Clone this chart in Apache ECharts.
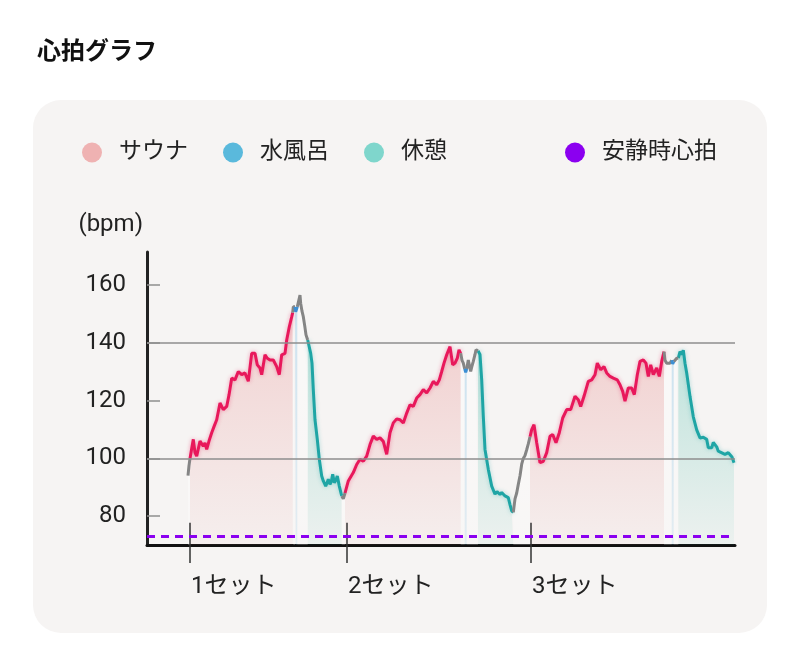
<!DOCTYPE html>
<html>
<head>
<meta charset="utf-8">
<script src="https://cdn.jsdelivr.net/npm/echarts@6/dist/echarts.min.js"></script>
<style>
  html, body { margin: 0; padding: 0; background: #ffffff; }
  #chart { width: 800px; height: 667px; }
</style>
</head>
<body>
<div id="chart"></div>
<script>
  // time in seconds, bpm
  var saunaSegs = [
    [[430,100],[463,106.6],[480,102],[497,100.8],[530,106],[563,104.2],[580,105.4],[597,103.1],[620,106],[647,108.9],[670,111],[697,113.4],[730,119.2],[763,116.9],[797,118],[820,122],[847,127.8],[880,127.2],[913,130.1],[947,129],[980,129.6],[1013,126.7],[1047,136.4],[1080,136.4],[1103,132.4],[1130,131.3],[1147,129],[1180,135.9],[1203,134.7],[1230,134.1],[1263,134.1],[1297,131.8],[1323,129],[1347,135.9],[1380,136.4],[1397,141],[1423,145.6],[1447,149],[1457,150.5]],
    [[1980,88],[2013,92.2],[2063,95.1],[2097,97.9],[2130,99.7],[2163,99],[2197,100.8],[2230,104.8],[2263,107.7],[2297,106.6],[2330,107.1],[2363,105.9],[2397,101.4],[2430,108.9],[2463,112.3],[2497,113.7],[2530,113.4],[2563,112.3],[2597,115.7],[2630,118.6],[2663,118],[2697,120.9],[2730,122.1],[2763,123.8],[2797,122.7],[2830,124.4],[2863,126.7],[2897,125.5],[2923,127.2],[2947,130.1],[2970,133],[2997,135.9],[3030,138.7],[3057,132.4],[3080,133],[3103,134.7],[3120,137.6],[3137,136.4]],
    [[3830,107.5],[3847,110],[3870,111.7],[3897,105.4],[3930,98.5],[3963,99],[3997,102],[4030,107.7],[4057,108.3],[4090,105.4],[4123,108.9],[4157,114],[4197,116.9],[4237,116.9],[4280,121.5],[4313,120.3],[4337,118],[4370,121.5],[4413,126.7],[4447,127.2],[4480,129],[4503,133],[4537,130.7],[4570,131.8],[4597,129.6],[4630,128.4],[4663,127.8],[4703,127.2],[4730,125.5],[4757,123.2],[4780,119.8],[4813,124.4],[4847,124.4],[4873,122.1],[4903,129],[4930,133.6],[4963,134.1],[4990,133],[5013,128.4],[5037,132.4],[5063,129],[5097,131.3],[5123,128.4],[5147,133.6],[5170,137]]
  ];
  var coldSegs = [
    [[1480,152.5],[1487,150.8],[1497,151],[1503,152.5]],
    [[3177,131],[3187,129.8],[3197,131]],
    [[5247,134],[5257,132.8],[5267,133.5]]
  ];
  var restSegs = [
    [[1607,141],[1620,141.6],[1637,136.4],[1650,133],[1663,123.8],[1680,113.4],[1703,106.6],[1723,99.7],[1747,93.9],[1763,92.2],[1787,90.4],[1800,91.5],[1813,92.8],[1830,91],[1843,92],[1857,94.5],[1873,91.6],[1890,92.5],[1903,93.9],[1923,90.4],[1947,87]],
    [[3310,137.3],[3330,136],[3347,127.2],[3363,114.6],[3380,103.1],[3413,96.2],[3447,90.4],[3480,87.6],[3500,88.5],[3513,88.2],[3530,87.5],[3547,88.2],[3580,87],[3613,86.4],[3630,84],[3647,81.8],[3663,81.3]],
    [[5313,134.7],[5330,137],[5347,136],[5363,137.5],[5380,133],[5397,129.6],[5430,121.5],[5463,114.4],[5497,109.9],[5530,107.1],[5563,107.3],[5597,106.6],[5613,103.7],[5647,103.7],[5663,105.5],[5680,106],[5697,104],[5713,102.5],[5730,102],[5780,101.4],[5813,102],[5830,102],[5850,100.5],[5870,98.5]]
  ];
  // transitions (gray)
  var moveSegs = [
    [[410,94],[420,97.5],[430,100]],
    [[1457,150.5],[1463,152.5],[1480,152.5]],
    [[1503,152.5],[1517,153],[1530,156.6],[1537,153.7],[1550,151],[1563,149.1],[1577,146],[1590,142.8],[1607,141]],
    [[1947,87],[1963,86],[1980,88]],
    [[3137,136.4],[3150,134],[3163,133],[3177,131]],
    [[3197,131],[3213,134.1],[3225,132],[3237,130.1],[3250,132],[3263,133.6],[3280,136],[3290,137.6],[3310,137.3]],
    [[3663,81.3],[3680,86],[3697,88],[3713,91],[3730,94],[3747,98],[3763,100],[3780,101],[3797,103],[3813,105],[3830,107.5]],
    [[5170,137],[5180,134],[5197,133],[5215,133.6],[5230,133],[5247,134]],
    [[5267,133.5],[5283,133],[5297,134.7],[5313,134.7]]
  ];
  var setStarts = [430, 2000, 3840];
  var setLabels = ['1セット', '2セット', '3セット'];
  var yTicks = [80, 100, 120, 140, 160];
  var gridValues = [100, 140];
  var restingBpm = 73;

  var FONT = 'Roboto, "Noto Sans CJK JP", sans-serif';

  function grad(c1, c2) {
    return new echarts.graphic.LinearGradient(0, 0, 0, 1, [
      { offset: 0, color: c1 }, { offset: 1, color: c2 }
    ]);
  }

  var phases = [
    { name: 'サウナ', segs: saunaSegs, line: '#e8185b', legend: '#efb2b2',
      area: ['rgba(232,135,135,0.45)', 'rgba(232,140,140,0.08)'], shadow: 'rgba(232,24,91,0.4)' },
    { name: '休憩', segs: restSegs, line: '#1fa5a5', legend: '#7fd6cc',
      area: ['rgba(70,190,170,0.45)', 'rgba(70,190,170,0.08)'], shadow: 'rgba(31,165,165,0.35)' },
    { name: '移動', segs: moveSegs, line: '#858585', legend: '#858585',
      area: ['rgba(255,255,255,0.6)', 'rgba(255,255,255,0.3)'], shadow: 'rgba(0,0,0,0)' },
    { name: '水風呂', segs: coldSegs, line: '#3c8fd4', legend: '#5ab9dc',
      area: ['rgba(140,200,235,0.55)', 'rgba(140,200,235,0.25)'], shadow: 'rgba(0,0,0,0)' }
  ];

  var series = [];
  phases.forEach(function (p) {
    p.segs.forEach(function (seg) {
      series.push({
        name: p.name,
        type: 'line',
        data: seg,
        showSymbol: false,
        symbol: 'none',
        itemStyle: { color: p.legend },
        lineStyle: { color: p.line, width: 3, shadowBlur: 4, shadowColor: p.shadow },
        areaStyle: { origin: 'start', color: grad(p.area[0], p.area[1]) },
        z: 3
      });
    });
  });

  // guide lines: horizontal grid lines and set tick marks
  var guideData = gridValues.map(function (v) {
    return { yAxis: v, lineStyle: { color: '#8e8e8e', width: 1.5, type: 'solid' } };
  });
  setStarts.forEach(function (s) {
    guideData.push([
      { coord: [s, 70], lineStyle: { color: '#333', width: 1.5, type: 'solid' } },
      { coord: [s, 77.7] }
    ]);
  });
  series.push({
    name: 'guide',
    type: 'line',
    data: [],
    z: 1,
    markLine: { silent: true, symbol: 'none', label: { show: false }, data: guideData, animation: false }
  });
  series.push({
    name: '安静時心拍',
    type: 'line',
    data: [],
    itemStyle: { color: '#8b00f0' },
    z: 5,
    markLine: {
      silent: true, symbol: 'none', label: { show: false },
      lineStyle: { color: '#8b00f0', width: 3, type: [8, 6] },
      data: [{ yAxis: restingBpm }],
      z: 5
    }
  });

  var chart = echarts.init(document.getElementById('chart'));
  chart.setOption({
    animation: false,
    backgroundColor: '#ffffff',
    title: {
      text: '心拍グラフ', left: 32, top: 36,
      textStyle: { fontFamily: FONT, fontSize: 24, fontWeight: 'bold', color: '#111' }
    },
    graphic: [{
      type: 'rect', z: -10, silent: true,
      shape: { x: 33, y: 100, width: 734, height: 533, r: 28 },
      style: { fill: '#f6f4f3' }
    }],
    legend: [{
      left: 77, top: 136, icon: 'circle', itemWidth: 20, itemHeight: 20, itemGap: 35,
      selectedMode: false,
      textStyle: { fontFamily: FONT, fontSize: 23, color: '#222', padding: [0, 0, 0, 12] },
      data: [
        { name: 'サウナ', itemStyle: { color: '#efb2b2' } },
        { name: '水風呂', itemStyle: { color: '#5ab9dc' } },
        { name: '休憩', itemStyle: { color: '#7fd6cc' } }
      ]
    }, {
      left: 560, top: 136, icon: 'circle', itemWidth: 20, itemHeight: 20,
      selectedMode: false,
      textStyle: { fontFamily: FONT, fontSize: 23, color: '#222', padding: [0, 0, 0, 12] },
      data: [{ name: '安静時心拍', itemStyle: { color: '#8b00f0' } }]
    }],
    grid: { left: 147, right: 65, top: 252, bottom: 122 },
    xAxis: {
      type: 'value', min: 0, max: 5880,
      axisLine: { show: true, lineStyle: { color: '#111', width: 3 } },
      axisTick: { show: true, customValues: setStarts, length: 18, lineStyle: { color: '#333', width: 1.5 } },
      axisLabel: {
        customValues: setStarts, margin: 30, align: 'left', padding: [0, 0, 0, 1],
        fontFamily: FONT, fontSize: 24, color: '#222',
        formatter: function (v) { return setLabels[setStarts.indexOf(v)]; }
      },
      splitLine: { show: false }
    },
    yAxis: {
      type: 'value', min: 70, max: 171.5,
      name: '(bpm)', nameLocation: 'end', nameGap: 15,
      nameTextStyle: { fontFamily: FONT, fontSize: 24, color: '#222', align: 'right', padding: [0, 4, 0, 0] },
      axisLine: { show: true, lineStyle: { color: '#222', width: 3 } },
      axisTick: { show: true, inside: true, customValues: yTicks, length: 13, lineStyle: { color: '#8e8e8e', width: 1.5 } },
      axisLabel: { customValues: yTicks, margin: 21, fontFamily: FONT, fontSize: 24, color: '#222' },
      splitLine: { show: false }
    },
    series: series
  });
</script>
</body>
</html>
